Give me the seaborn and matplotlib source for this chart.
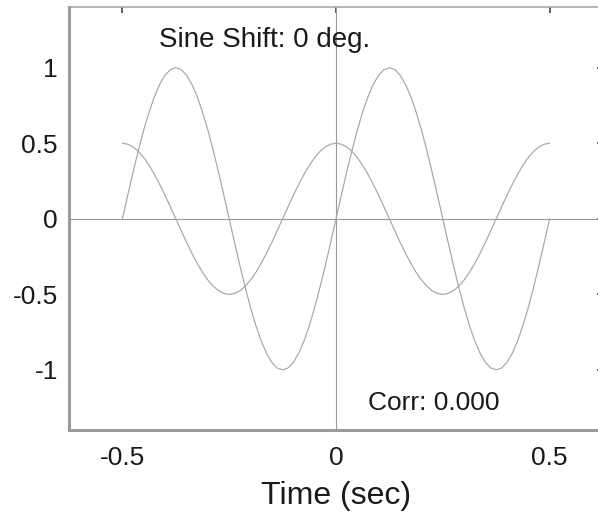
import numpy as np
import pandas as pd
import matplotlib
matplotlib.use("Agg")
import matplotlib.pyplot as plt
import seaborn as sns

# Sampled signals over one second, 81 samples
time_sec = np.linspace(-0.5, 0.5, 81)

sine_wave = [
    0.000, 0.156, 0.309, 0.454, 0.588, 0.707, 0.809, 0.891, 0.951, 0.988,
    1.000, 0.988, 0.951, 0.891, 0.809, 0.707, 0.588, 0.454, 0.309, 0.156,
    0.000, -0.156, -0.309, -0.454, -0.588, -0.707, -0.809, -0.891, -0.951, -0.988,
    -1.000, -0.988, -0.951, -0.891, -0.809, -0.707, -0.588, -0.454, -0.309, -0.156,
    0.000, 0.156, 0.309, 0.454, 0.588, 0.707, 0.809, 0.891, 0.951, 0.988,
    1.000, 0.988, 0.951, 0.891, 0.809, 0.707, 0.588, 0.454, 0.309, 0.156,
    0.000, -0.156, -0.309, -0.454, -0.588, -0.707, -0.809, -0.891, -0.951, -0.988,
    -1.000, -0.988, -0.951, -0.891, -0.809, -0.707, -0.588, -0.454, -0.309, -0.156,
    0.000,
]

reference_wave = [
    0.500, 0.494, 0.476, 0.446, 0.405, 0.354, 0.294, 0.227, 0.155, 0.078,
    0.000, -0.078, -0.155, -0.227, -0.294, -0.354, -0.405, -0.446, -0.476, -0.494,
    -0.500, -0.494, -0.476, -0.446, -0.405, -0.354, -0.294, -0.227, -0.155, -0.078,
    0.000, 0.078, 0.155, 0.227, 0.294, 0.354, 0.405, 0.446, 0.476, 0.494,
    0.500, 0.494, 0.476, 0.446, 0.405, 0.354, 0.294, 0.227, 0.155, 0.078,
    0.000, -0.078, -0.155, -0.227, -0.294, -0.354, -0.405, -0.446, -0.476, -0.494,
    -0.500, -0.494, -0.476, -0.446, -0.405, -0.354, -0.294, -0.227, -0.155, -0.078,
    0.000, 0.078, 0.155, 0.227, 0.294, 0.354, 0.405, 0.446, 0.476, 0.494,
    0.500,
]

x_ticks = [-0.5, 0, 0.5]
x_tick_labels = ["-0.5", "0", "0.5"]
y_ticks = [-1, -0.5, 0, 0.5, 1]
y_tick_labels = ["-1", "-0.5", "0", "0.5", "1"]

shift_label = "Sine Shift: 0 deg."
corr_label = "Corr: 0.000"

sns.set_style("white")
plt.rcParams["font.family"] = ["Liberation Sans", "DejaVu Sans"]

fig = plt.figure(figsize=(5.98, 5.14), dpi=100)
ax = fig.add_axes([69 / 598, 0.1628, (603 - 69) / 598, 0.9858 - 0.1628])

df = pd.DataFrame({"t": time_sec, "sine": sine_wave, "ref": reference_wave})

# Zero crosshair lines
ax.axhline(0, color="#999999", lw=0.8, zorder=1)
ax.axvline(0, color="#999999", lw=0.8, zorder=1)

sns.lineplot(data=df, x="t", y="sine", ax=ax, color="#a6a6a6", lw=0.85,
             sort=False, estimator=None)
sns.lineplot(data=df, x="t", y="ref", ax=ax, color="#a6a6a6", lw=0.85,
             sort=False, estimator=None)

ax.set_xlim(-0.625, 0.625)
ax.set_ylim(-1.4, 1.4)
ax.set_xticks(x_ticks)
ax.set_xticklabels(x_tick_labels)
ax.set_yticks(y_ticks)
ax.set_yticklabels(y_tick_labels)

ax.tick_params(axis="both", direction="in", length=4, width=1.2, color="#444444",
               labelsize=19, labelcolor="#1a1a1a", top=True, right=True)
ax.tick_params(axis="x", pad=11)
ax.tick_params(axis="y", pad=8)

for side in ["left", "bottom"]:
    ax.spines[side].set_color("#9a9a9a")
    ax.spines[side].set_linewidth(2.2)
for side in ["top", "right"]:
    ax.spines[side].set_color("#a0a0a0")
    ax.spines[side].set_linewidth(1.1)
    ax.spines[side].set_visible(True)

ax.set_xlabel("Time (sec)", fontsize=23, color="#1a1a1a", labelpad=8)
ax.set_ylabel("")

ax.text(-0.415, 1.135, shift_label, fontsize=20, color="#1a1a1a")
ax.text(0.075, -1.265, corr_label, fontsize=19, color="#1a1a1a")

fig.savefig("out.png", dpi=100)
